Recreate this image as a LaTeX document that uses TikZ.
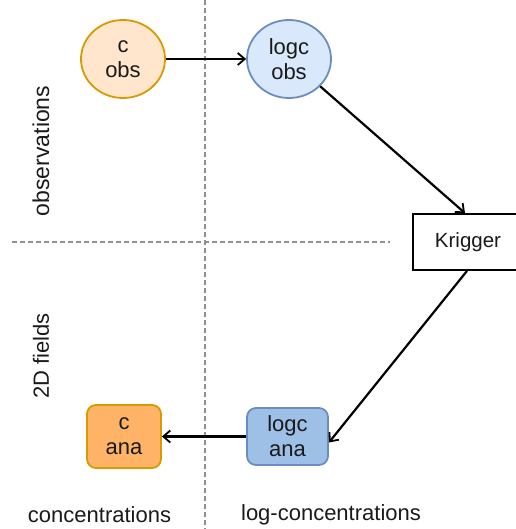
\documentclass[tikz,border=0pt]{standalone}
\usepackage{fontspec}
\setmainfont{Liberation Sans}
\usetikzlibrary{arrows.meta,calc,shapes.geometric}
\definecolor{obsfill}{HTML}{FFE6CC}
\definecolor{obsdraw}{HTML}{D79B00}
\definecolor{lobsfill}{HTML}{DAE8FC}
\definecolor{lobsdraw}{HTML}{6C8EBF}
\definecolor{lanafill}{HTML}{9EBFE6}
\definecolor{canafill}{HTML}{FFB366}
\definecolor{txt}{HTML}{1A1A1A}
\definecolor{sep}{HTML}{909090}
\tikzset{
  nodetext/.style={font=\fontsize{22}{25}\selectfont, text=txt, align=center, inner sep=0pt},
  ellnode/.style={nodetext, ellipse, line width=1.8pt, minimum width=84pt, minimum height=78pt},
  rbox/.style={nodetext, rectangle, rounded corners=9pt, line width=1.8pt},
  plainbox/.style={nodetext, rectangle, draw=black, line width=1.8pt, fill=white},
  lbl/.style={font=\fontsize{22}{26}\selectfont, text=txt, inner sep=0pt},
  sepline/.style={draw=sep, line width=1.2pt, dash pattern=on 5pt off 3pt},
  conn/.style={draw=black, line width=2.2pt, -{Straight Barb[length=7pt,width=12pt,line width=1.8pt]}}
}
\begin{document}
\begin{tikzpicture}[x=1pt,y=-1pt]
\useasboundingbox (0,0) rectangle (515,529);
% separators
\coordinate (vtop) at (205,0);
\coordinate (vbot) at (205,529);
\coordinate (hl) at (12,242);
\coordinate (hr) at (390,242);
\draw[sepline] (vtop) -- (vbot);
\draw[sepline] (hl) -- (hr);
% nodes
\node[ellnode, draw=obsdraw, fill=obsfill] (cobs) at (123,59) {c\\obs};
\node[ellnode, draw=lobsdraw, fill=lobsfill] (lobs) at (289,59) {logc\\obs};
\node[plainbox, minimum width=110pt, minimum height=56pt, font=\fontsize{20.5}{24}\selectfont] (krig) at (468,242) {Krigger};
\node[rbox, draw=lobsdraw, fill=lanafill, minimum width=81pt, minimum height=57pt] (lana) at (287.5,436.5) {logc\\ana};
\node[rbox, draw=obsdraw, fill=canafill, minimum width=74pt, minimum height=63pt] (cana) at (124,436.5) {c\\ana};
% labels
\node[lbl, rotate=90, font=\fontsize{23}{26}\selectfont] (lobsv) at (41,151) {observations};
\node[lbl, rotate=90] (lfld) at (41,356) {2D fields};
\node[lbl] (lconc) at (99.5,515) {concentrations};
\node[lbl] (llog) at (331,515) {log-concentrations};
% connectors
\draw[conn] (cobs) -- (lobs);
\draw[conn] (lobs) -- ([xshift=-3pt]krig.north);
\draw[conn] ([xshift=-1pt]krig.south) -- ([yshift=-6pt]lana.east);
\draw[conn] (lana) -- (cana);
\end{tikzpicture}
\end{document}
